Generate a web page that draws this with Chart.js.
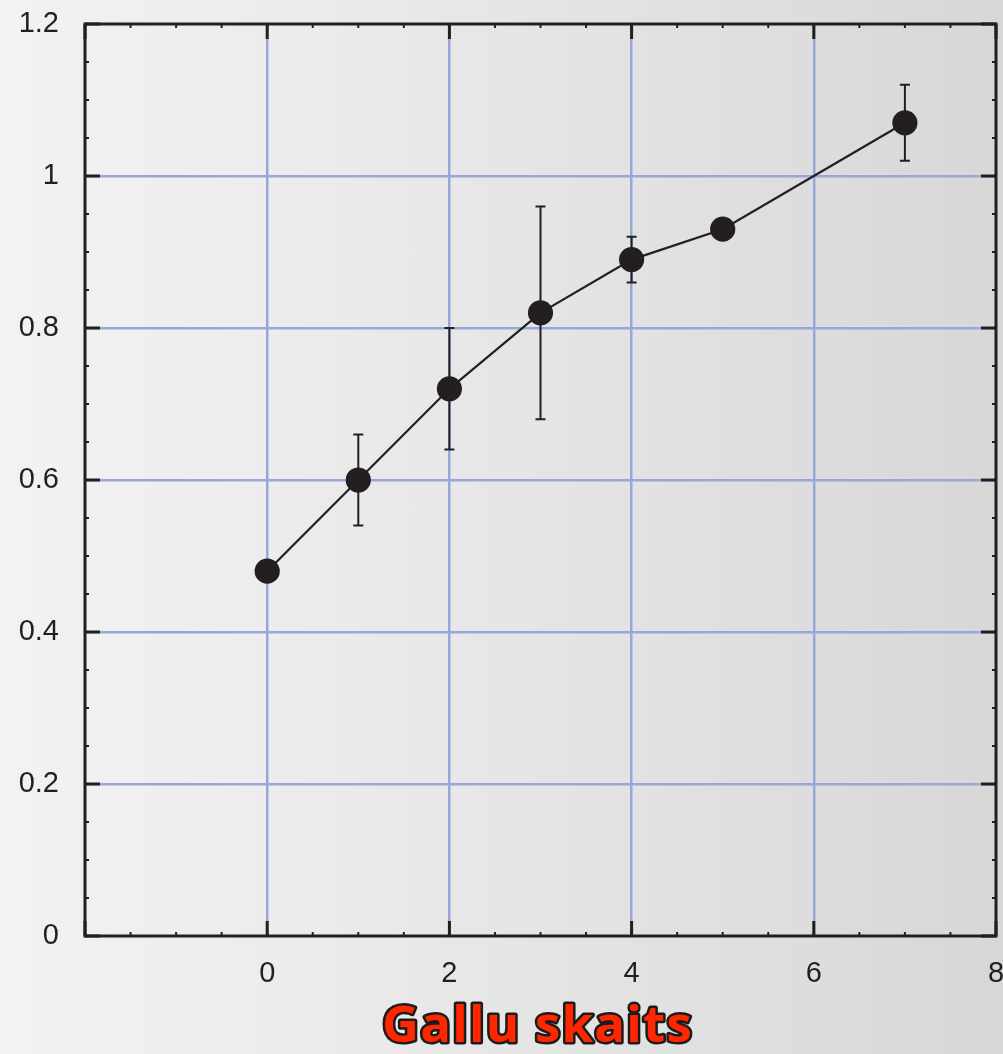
<!DOCTYPE html>
<html>
<head>
<meta charset="utf-8">
<title>Gallu skaits</title>
<script src="https://cdn.jsdelivr.net/npm/chart.js@4/dist/chart.umd.min.js"></script>
<style>
  html, body { margin: 0; padding: 0; }
  body {
    width: 1003px; height: 1054px; overflow: hidden;
    background: linear-gradient(to right, #f2f2f2 0%, #ededed 25%, #e3e3e3 60%, #d7d7d7 100%);
  }
  #wrap { position: relative; width: 1003px; height: 1054px; }
</style>
</head>
<body>
<div id="wrap"><canvas id="chart" width="1003" height="1054"></canvas></div>
<script>
// Measurements
const xValues = [0, 1, 2, 3, 4, 5, 7];
const yValues = [0.48, 0.60, 0.72, 0.82, 0.89, 0.93, 1.07];
// Error bar limits (null where no bar is drawn)
const yLower = [null, 0.54, 0.64, 0.68, 0.86, null, 1.02];
const yUpper = [null, 0.66, 0.80, 0.96, 0.92, null, 1.12];

// Axis tick labels
const xTickValues = [-2, 0, 2, 4, 6, 8];
const xTickLabels = ['', '0', '2', '4', '6', '8'];
const yTickValues = [0, 0.2, 0.4, 0.6, 0.8, 1, 1.2];
const yTickLabels = ['0', '0.2', '0.4', '0.6', '0.8', '1', '1.2'];

const axisTitle = 'Gallu skaits';

const INK = '#231f20';
const GRID = '#97a7dc';

function labelFor(values, labels, v) {
  const i = values.findIndex(t => Math.abs(t - v) < 1e-9);
  return i >= 0 ? labels[i] : '';
}

// Error bars with caps, positioned through the chart scales
const errorBars = {
  id: 'errorBars',
  beforeDatasetsDraw(chart) {
    const { ctx, scales: { x, y } } = chart;
    ctx.save();
    ctx.strokeStyle = INK;
    ctx.lineWidth = 2;
    const cap = 5;
    xValues.forEach((xv, i) => {
      if (yLower[i] == null || yUpper[i] == null) return;
      const px = x.getPixelForValue(xv);
      const top = y.getPixelForValue(yUpper[i]);
      const bot = y.getPixelForValue(yLower[i]);
      ctx.beginPath();
      ctx.moveTo(px, top); ctx.lineTo(px, bot);
      ctx.moveTo(px - cap, top); ctx.lineTo(px + cap, top);
      ctx.moveTo(px - cap, bot); ctx.lineTo(px + cap, bot);
      ctx.stroke();
    });
    ctx.restore();
  }
};

// Boxed frame with inward major and minor ticks on all four sides
const frameTicks = {
  id: 'frameTicks',
  beforeDatasetsDraw(chart) {
    const { ctx, chartArea: a, scales: { x, y } } = chart;
    ctx.save();
    ctx.strokeStyle = INK;
    ctx.lineCap = 'butt';

    // minor ticks
    ctx.lineWidth = 2;
    const minorLen = 4;
    ctx.beginPath();
    for (let v = x.min; v <= x.max + 1e-9; v += 0.5) {
      const px = x.getPixelForValue(v);
      ctx.moveTo(px, a.bottom); ctx.lineTo(px, a.bottom - minorLen);
      ctx.moveTo(px, a.top); ctx.lineTo(px, a.top + minorLen);
    }
    for (let v = y.min; v <= y.max + 1e-9; v += 0.05) {
      const py = y.getPixelForValue(v);
      ctx.moveTo(a.left, py); ctx.lineTo(a.left + minorLen, py);
      ctx.moveTo(a.right, py); ctx.lineTo(a.right - minorLen, py);
    }
    ctx.stroke();

    // major ticks
    ctx.lineWidth = 3;
    const majorLen = 15;
    ctx.beginPath();
    xTickValues.forEach(v => {
      const px = x.getPixelForValue(v);
      ctx.moveTo(px, a.bottom); ctx.lineTo(px, a.bottom - majorLen);
      ctx.moveTo(px, a.top); ctx.lineTo(px, a.top + majorLen);
    });
    yTickValues.forEach(v => {
      const py = y.getPixelForValue(v);
      ctx.moveTo(a.left, py); ctx.lineTo(a.left + majorLen, py);
      ctx.moveTo(a.right, py); ctx.lineTo(a.right - majorLen, py);
    });
    ctx.stroke();

    // frame
    ctx.lineWidth = 3;
    ctx.strokeRect(a.left, a.top, a.right - a.left, a.bottom - a.top);
    ctx.restore();
  }
};

// Outlined axis title below the x tick labels
const outlinedTitle = {
  id: 'outlinedTitle',
  afterDraw(chart) {
    const { ctx, chartArea: a } = chart;
    ctx.save();
    ctx.font = 'bold 51px "Open Sans", "DejaVu Sans", sans-serif';
    if ('letterSpacing' in ctx) ctx.letterSpacing = '1.2px';
    ctx.textAlign = 'center';
    ctx.textBaseline = 'alphabetic';
    const cx = (a.left + a.right) / 2 - 3;
    const by = 1042;
    ctx.lineJoin = 'round';
    ctx.lineWidth = 5;
    ctx.strokeStyle = '#1c1c1c';
    ctx.strokeText(axisTitle, cx, by);
    ctx.fillStyle = '#ff2600';
    ctx.fillText(axisTitle, cx, by);
    ctx.restore();
  }
};

const gridColor = (min, max) => (c) => {
  const v = c.tick ? c.tick.value : null;
  if (v == null) return 'rgba(0,0,0,0)';
  if (Math.abs(v - min) < 1e-9 || Math.abs(v - max) < 1e-9) return 'rgba(0,0,0,0)';
  return GRID;
};

// The box is fixed by the layout padding alone; edge labels may overhang it
const noPadding = () => ({ left: 0, top: 0, right: 0, bottom: 0 });

const tickFont = { family: '"Liberation Sans", Arial, sans-serif', size: 29 };

new Chart(document.getElementById('chart'), {
  type: 'scatter',
  data: {
    datasets: [{
      data: xValues.map((xv, i) => ({ x: xv, y: yValues[i] })),
      showLine: true,
      borderColor: INK,
      borderWidth: 2.2,
      backgroundColor: INK,
      pointBackgroundColor: INK,
      pointBorderColor: INK,
      pointRadius: 11.5,
      pointHoverRadius: 11.5,
      tension: 0,
      clip: false
    }]
  },
  options: {
    responsive: false,
    animation: false,
    events: [],
    layout: { autoPadding: false, padding: { top: 24, right: 7, left: 0, bottom: 0 } },
    plugins: {
      legend: { display: false },
      tooltip: { enabled: false },
      title: { display: false }
    },
    scales: {
      x: {
        type: 'linear',
        min: -2, max: 8,
        afterBuildTicks: (s) => { s.ticks = xTickValues.map(v => ({ value: v })); },
        afterFit: (s) => {
          s.height = 118; s.paddingLeft = 0; s.paddingRight = 0;
          s.getPadding = noPadding;
        },
        ticks: {
          callback: (v) => labelFor(xTickValues, xTickLabels, v),
          font: tickFont,
          color: INK,
          padding: 21,
          maxRotation: 0,
          autoSkip: false
        },
        grid: { color: gridColor(-2, 8), lineWidth: 2.5, drawTicks: false },
        border: { display: false }
      },
      y: {
        type: 'linear',
        min: 0, max: 1.2,
        afterBuildTicks: (s) => { s.ticks = yTickValues.map(v => ({ value: v })); },
        afterFit: (s) => {
          s.width = 85; s.paddingTop = 0; s.paddingBottom = 0;
          s.getPadding = noPadding;
        },
        ticks: {
          callback: (v) => labelFor(yTickValues, yTickLabels, v),
          font: tickFont,
          color: INK,
          padding: 26,
          autoSkip: false
        },
        grid: { color: gridColor(0, 1.2), lineWidth: 2.5, drawTicks: false },
        border: { display: false }
      }
    }
  },
  plugins: [errorBars, frameTicks, outlinedTitle]
});
</script>
</body>
</html>
